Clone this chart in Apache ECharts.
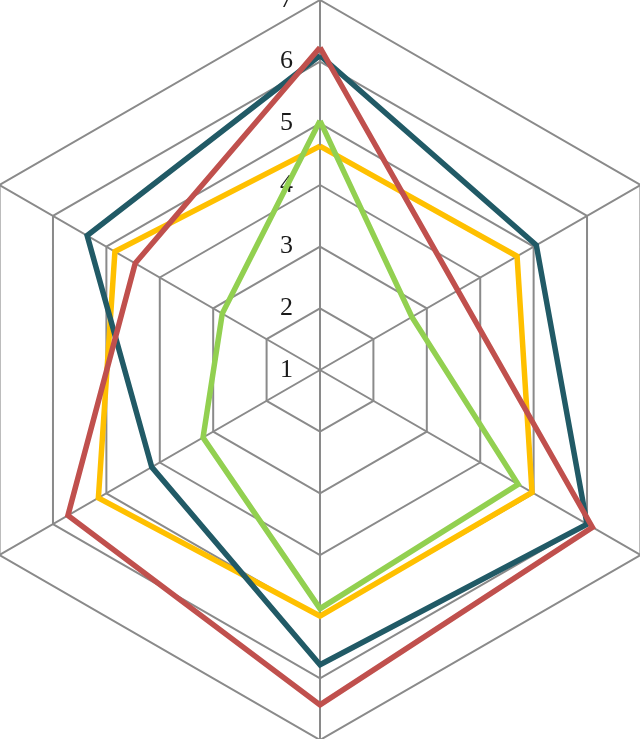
<!DOCTYPE html>
<html>
<head>
<meta charset="utf-8">
<script src="https://cdn.jsdelivr.net/npm/echarts@6/dist/echarts.min.js"></script>
<style>
html,body{margin:0;padding:0;background:#fff;}
#chart{width:640px;height:739px;}
</style>
</head>
<body>
<div id="chart"></div>
<script>
// Indicators in ECharts order (counter-clockwise from top)
var categories = ['A', 'F', 'E', 'D', 'C', 'B'];
var axisMin = 1;
var axisMax = 7;
var seriesYellow = [4.63, 4.84, 5.15, 4.99, 4.97, 4.69];
var seriesGreen  = [5.04, 2.83, 3.19, 4.87, 4.71, 2.72];
var seriesTeal   = [6.10, 5.36, 4.15, 5.78, 6.00, 5.05];
var seriesRed    = [6.23, 4.46, 5.72, 6.43, 6.10, 3.58];

var chart = echarts.init(document.getElementById('chart'));
var indicator = categories.map(function (c, i) {
  var o = { name: c, min: axisMin, max: axisMax };
  if (i === 0) {
    o.axisLabel = { show: true };
  }
  return o;
});
function mk(name, data, color) {
  return {
    type: 'radar',
    name: name,
    symbol: 'none',
    silent: true,
    lineStyle: { color: color, width: 5.5, join: 'miter' },
    data: [{ value: data, name: name }]
  };
}
chart.setOption({
  animation: false,
  radar: {
    center: [320, 370],
    radius: 370,
    startAngle: 90,
    shape: 'polygon',
    splitNumber: 6,
    axisName: { show: false },
    indicator: indicator,
    axisLine: { lineStyle: { color: '#8a8a8a', width: 2 } },
    splitLine: { lineStyle: { color: '#8a8a8a', width: 2 } },
    splitArea: { show: false },
    axisTick: { show: false },
    axisLabel: {
      show: false,
      margin: 27,
      color: '#1a1a1a',
      fontFamily: '"Liberation Serif", "Times New Roman", serif',
      fontSize: 26
    }
  },
  series: [
    mk('Yellow', seriesYellow, '#FFC000'),
    mk('Green', seriesGreen, '#92D050'),
    mk('Teal', seriesTeal, '#215A66'),
    mk('Red', seriesRed, '#C0504D')
  ]
});
</script>
</body>
</html>
